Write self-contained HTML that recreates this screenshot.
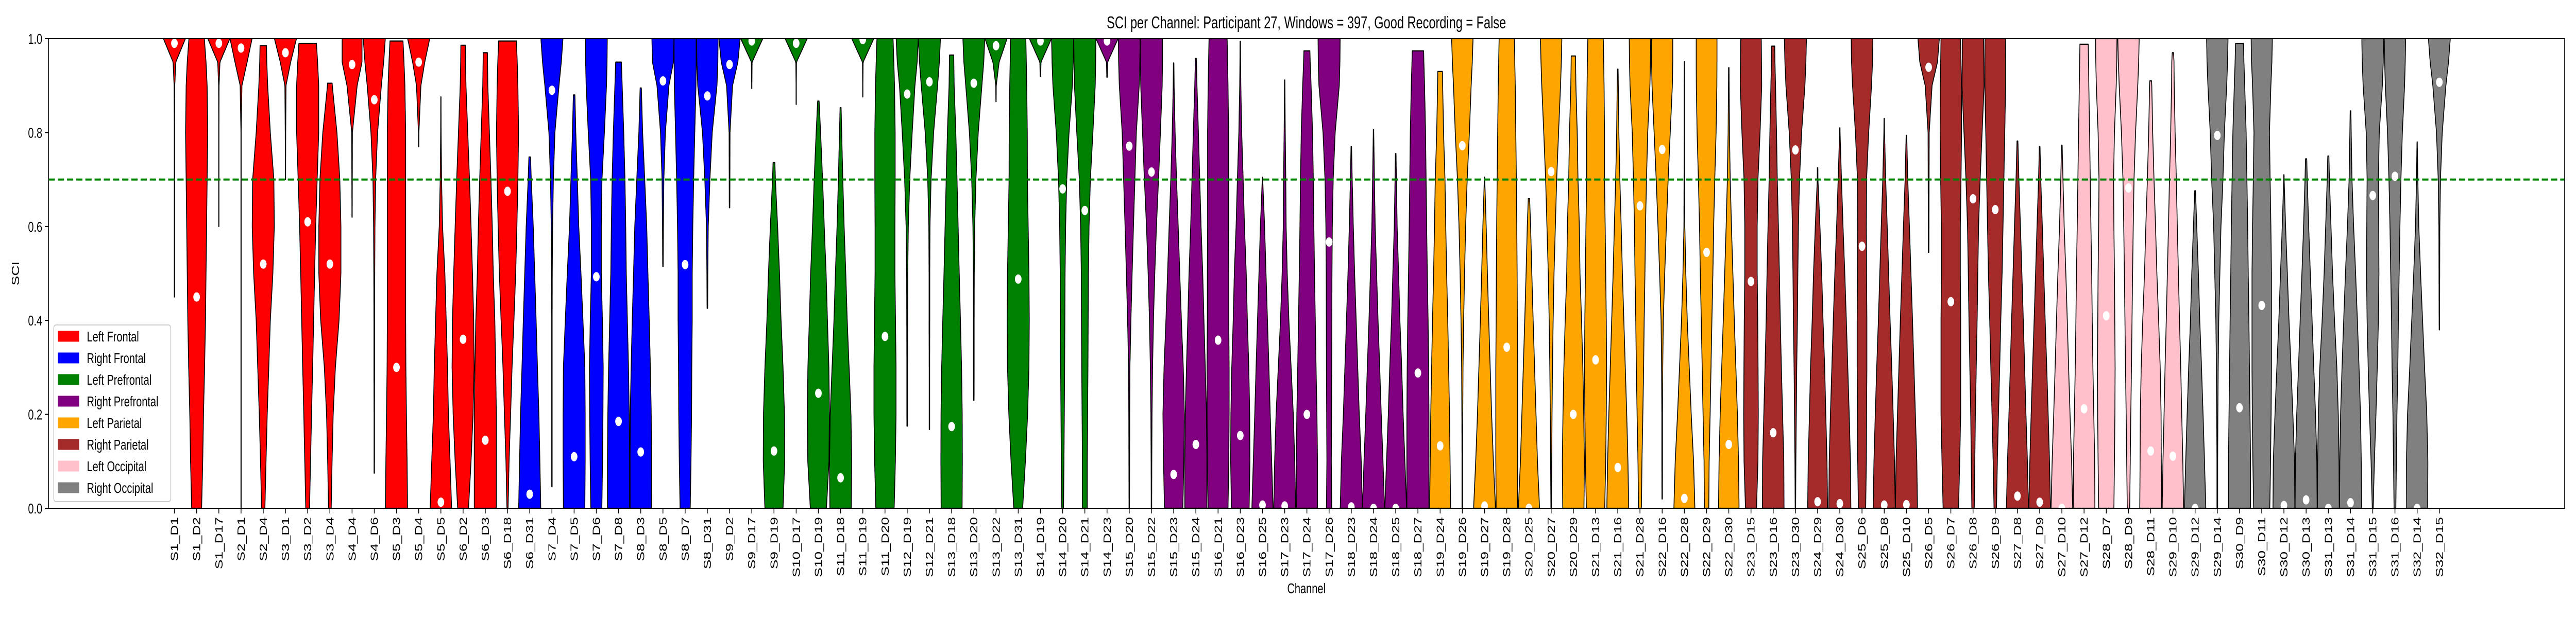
<!DOCTYPE html>
<html><head><meta charset="utf-8"><style>
html,body{margin:0;padding:0;background:#fff;overflow:hidden;width:100vw;height:100vh;}
svg{display:block;width:100vw;height:100vh;font-family:"Liberation Sans","DejaVu Sans",sans-serif;}
</style></head><body>
<svg id="chart" viewBox="0 0 7000 1200" preserveAspectRatio="none" xmlns="http://www.w3.org/2000/svg">
<rect x="0" y="0" width="7000" height="1200" fill="#fff"/>
<text x="3550" y="55" font-size="33" text-anchor="middle">SCI per Channel: Participant 27, Windows = 397, Good Recording = False</text>
<defs><clipPath id="plotclip"><rect x="132" y="75" width="6837" height="912"/></clipPath></defs>
<g id="violins" clip-path="url(#plotclip)"></g>
<line id="thr" stroke="#008000" stroke-width="4" stroke-dasharray="17,8"/>
<g id="dots" clip-path="url(#plotclip)"></g>
<rect x="132" y="75" width="6837" height="912" fill="none" stroke="#000" stroke-width="2"/>
<g id="yaxis"></g>
<g id="xaxis"></g>
<text transform="translate(52,531) rotate(-90)" font-size="28" text-anchor="middle">SCI</text>
<text x="3550" y="1152" font-size="28" text-anchor="middle">Channel</text>
<g id="legend">
<rect x="146" y="631" width="318" height="343" rx="6" fill="#fff" fill-opacity="0.8" stroke="#cccccc" stroke-width="2"/>
</g>
</svg>
<script>
const channels = ["S1_D1","S1_D2","S1_D17","S2_D1","S2_D4","S3_D1","S3_D2","S3_D4","S4_D4","S4_D6","S5_D3","S5_D4","S5_D5","S6_D2","S6_D3","S6_D18","S6_D31","S7_D4","S7_D5","S7_D6","S7_D8","S8_D3","S8_D5","S8_D7","S8_D31","S9_D2","S9_D17","S9_D19","S10_D17","S10_D19","S11_D18","S11_D19","S11_D20","S12_D19","S12_D21","S13_D18","S13_D20","S13_D22","S13_D31","S14_D19","S14_D20","S14_D21","S14_D23","S15_D20","S15_D22","S15_D23","S15_D24","S16_D21","S16_D23","S16_D25","S17_D23","S17_D24","S17_D26","S18_D23","S18_D24","S18_D25","S18_D27","S19_D24","S19_D26","S19_D27","S19_D28","S20_D25","S20_D27","S20_D29","S21_D13","S21_D16","S21_D28","S22_D16","S22_D28","S22_D29","S22_D30","S23_D15","S23_D16","S23_D30","S24_D29","S24_D30","S25_D6","S25_D8","S25_D10","S26_D5","S26_D7","S26_D8","S26_D9","S27_D8","S27_D9","S27_D10","S27_D12","S28_D7","S28_D9","S28_D11","S29_D10","S29_D12","S29_D14","S30_D9","S30_D11","S30_D12","S30_D13","S31_D13","S31_D14","S31_D15","S31_D16","S32_D14","S32_D15"];
const regionNames = ["Left Frontal","Right Frontal","Left Prefrontal","Right Prefrontal","Left Parietal","Right Parietal","Left Occipital","Right Occipital"];
const regionColors = ["red","blue","green","purple","orange","brown","pink","gray"];
const regionCounts = [16,10,16,15,14,14,6,12];
const mins = [0.45,0,0.6,0,0,0.7,0,0,0.62,0.075,0,0.77,0,0,0,0,0,0.046,0,0,0,0,0.515,0,0.426,0.64,0.894,0,0.86,0,0,0.876,0,0.175,0.168,0,0.23,0.866,0,0.92,0,0,0.918,0,0,0,0,0,0,0,0,0,0,0,0,0,0,0,0,0,0,0,0,0,0,0,0,0.02,0,0,0,0,0,0,0,0,0,0,0,0.545,0,0,0,0,0,0,0,0,0,0,0,0,0,0,0,0,0,0,0,0,0,0,0.38];
const maxs = [1,1,1,1,0.985,1,0.99,0.905,1,1,0.995,1,0.876,0.986,0.97,0.995,0.748,1,0.88,1,0.95,0.895,1,1,1,1,1,0.736,1,0.867,0.853,1,1,1,1,0.965,1,1,1,1,1,1,1,1,1,0.948,0.958,1,0.994,0.705,0.912,0.974,1,0.77,0.806,0.755,0.974,0.93,1,0.705,1,0.66,1,0.963,1,0.935,1,1,0.951,1,0.938,1,0.984,1,0.725,0.81,1,0.83,0.794,1,1,1,1,0.782,0.77,0.773,0.988,1,1,0.91,0.97,0.676,1,0.99,1,0.71,0.744,0.75,0.846,1,1,0.78,1];
const medians = [0.99,0.45,0.99,0.98,0.52,0.97,0.61,0.52,0.945,0.87,0.30,0.95,0.013,0.36,0.145,0.675,0.03,0.89,0.11,0.493,0.185,0.12,0.91,0.519,0.878,0.945,0.995,0.122,0.99,0.245,0.065,0.998,0.366,0.882,0.908,0.174,0.905,0.985,0.488,0.995,0.68,0.634,0.995,0.771,0.716,0.072,0.136,0.358,0.155,0.007,0.005,0.2,0.567,0.003,0,0,0.288,0.133,0.772,0.005,0.343,0,0.717,0.2,0.316,0.087,0.644,0.764,0.021,0.545,0.136,0.483,0.161,0.763,0.014,0.01,0.558,0.007,0.008,0.939,0.44,0.659,0.636,0.026,0.013,0,0.212,0.41,0.682,0.122,0.111,0,0.794,0.214,0.432,0.006,0.018,0,0.012,0.666,0.707,0,0.907];
// density width profile at SCI levels 0,.1,...,.9,.95,1.0 (fraction of max violin width)
const densityLevels = [0,0.1,0.2,0.3,0.4,0.5,0.6,0.7,0.8,0.9,0.95,1.0];
const densities = [
[0,0,0,0,0.01,0.01,0.01,0.01,0.01,0.03,0.12,1],
[0.45,0.55,0.62,0.72,0.8,0.85,0.9,0.95,1,0.95,0.85,0.7],
[0,0,0,0,0,0,0.01,0.01,0.01,0.02,0.1,1],
[0.01,0.01,0.01,0.01,0.01,0.01,0.01,0.01,0.01,0.08,0.55,1],
[0.15,0.25,0.36,0.5,0.64,0.87,1,0.96,0.64,0.4,0.32,0.28],
[0,0,0,0,0,0,0,0.01,0.02,0.05,0.47,1],
[0.17,0.26,0.35,0.45,0.54,0.63,0.73,0.86,1,1,0.9,0.77],
[0.12,0.2,0.3,0.5,0.83,1,1,0.9,0.64,0.22,0.1,0],
[0,0,0,0,0,0,0.01,0.02,0.03,0.46,0.9,0.9],
[0.01,0.02,0.02,0.03,0.03,0.04,0.06,0.12,0.3,0.64,0.85,1],
[1,0.96,0.9,0.85,0.83,0.83,0.83,0.83,0.83,0.76,0.68,0.58],
[0,0,0,0,0,0,0,0,0.02,0.2,0.55,1],
[0.97,0.83,0.68,0.6,0.48,0.36,0.15,0.06,0.02,0.01,0,0],
[0.49,0.72,0.9,1,0.96,0.85,0.72,0.58,0.42,0.26,0.22,0.2],
[1,1,1,0.94,0.86,0.72,0.63,0.51,0.37,0.23,0.2,0.18],
[0.05,0.14,0.28,0.41,0.58,0.74,0.85,0.94,1,0.94,0.88,0.8],
[1,0.92,0.83,0.7,0.58,0.45,0.32,0.14,0,0,0,0],
[0.02,0.02,0.02,0.02,0.02,0.03,0.06,0.13,0.27,0.64,0.85,1],
[0.97,1,1,0.97,0.8,0.62,0.42,0.29,0.15,0.05,0,0],
[0.5,0.56,0.6,0.62,0.55,0.45,0.45,0.51,0.73,0.92,0.97,0.99],
[1,1,0.97,0.9,0.8,0.7,0.65,0.58,0.47,0.33,0.26,0],
[0.96,0.97,0.95,0.87,0.77,0.65,0.54,0.36,0.17,0.05,0,0],
[0,0,0,0,0,0.02,0.04,0.08,0.22,0.54,0.95,1],
[0.46,0.53,0.58,0.6,0.64,0.64,0.69,0.77,0.87,0.98,1,1],
[0,0,0,0,0.02,0.04,0.08,0.23,0.44,0.87,0.95,0.97],
[0,0,0,0,0,0,0.02,0.03,0.04,0.27,0.75,0.96],
[0,0,0,0,0,0,0,0,0,0.01,0.03,1],
[0.82,0.97,0.95,0.82,0.64,0.5,0.33,0.13,0,0,0,0],
[0,0,0,0,0,0,0,0,0,0.01,0.03,1],
[0.73,0.96,1,0.95,0.82,0.7,0.53,0.38,0.2,0,0,0],
[0.97,1,0.94,0.77,0.6,0.47,0.32,0.2,0.1,0,0,0],
[0,0,0,0,0,0,0,0,0,0.01,0.03,1],
[0.83,0.94,1,1,0.95,0.9,0.9,0.92,0.92,0.86,0.8,0.73],
[0,0.02,0.03,0.03,0.04,0.05,0.1,0.23,0.45,0.7,0.9,1],
[0,0.02,0.02,0.02,0.03,0.03,0.05,0.15,0.38,0.74,0.9,1],
[0.95,0.97,0.96,0.9,0.8,0.69,0.59,0.49,0.38,0.23,0.2,0.18],
[0,0,0.02,0.03,0.03,0.04,0.08,0.19,0.4,0.73,0.9,0.99],
[0,0,0,0,0,0,0,0,0,0.02,0.28,1],
[0.4,0.65,0.85,0.97,1,0.97,0.9,0.83,0.82,0.77,0.73,0.69],
[0,0,0,0,0,0,0,0,0,0.01,0.05,1],
[0.08,0.12,0.15,0.18,0.2,0.22,0.27,0.37,0.58,0.88,0.96,1],
[0.22,0.22,0.25,0.28,0.3,0.32,0.38,0.5,0.73,0.94,0.98,1],
[0,0,0,0,0,0,0,0,0,0.01,0.05,1],
[0.02,0.03,0.04,0.06,0.15,0.26,0.38,0.51,0.64,0.9,0.96,0.99],
[0.02,0.03,0.05,0.1,0.18,0.3,0.45,0.64,0.81,0.97,1,1],
[0.83,0.92,0.97,0.87,0.7,0.55,0.41,0.26,0.13,0.04,0.02,0],
[1,1,0.96,0.85,0.73,0.62,0.47,0.35,0.23,0.1,0.05,0],
[0.9,0.97,1,1,0.97,0.97,0.95,0.95,0.95,0.9,0.86,0.82],
[0.8,0.87,0.85,0.77,0.64,0.54,0.38,0.26,0.13,0.05,0.03,0.02],
[0.96,0.83,0.7,0.58,0.45,0.32,0.19,0.02,0,0,0,0],
[0.99,0.91,0.78,0.58,0.38,0.23,0.13,0.1,0.05,0.02,0,0],
[0.96,0.96,0.91,0.83,0.76,0.69,0.63,0.58,0.51,0.38,0.3,0.24],
[0.24,0.2,0.22,0.24,0.25,0.26,0.29,0.37,0.55,0.92,0.98,1],
[1,0.9,0.72,0.58,0.44,0.3,0.18,0.08,0,0,0,0],
[1,0.86,0.7,0.56,0.41,0.28,0.15,0.08,0.02,0,0,0],
[0.99,0.83,0.67,0.54,0.38,0.26,0.13,0.06,0,0,0,0],
[1,1,1,0.97,0.92,0.85,0.79,0.74,0.69,0.6,0.54,0.49],
[0.95,0.9,0.85,0.77,0.69,0.59,0.51,0.44,0.31,0.23,0.2,0],
[0.03,0.03,0.04,0.06,0.12,0.2,0.3,0.44,0.64,0.8,0.9,0.97],
[0.99,0.8,0.64,0.51,0.38,0.26,0.15,0.02,0,0,0,0],
[0.96,0.99,0.99,0.99,0.96,0.94,0.91,0.87,0.82,0.77,0.73,0.69],
[0.96,0.77,0.64,0.51,0.38,0.26,0.15,0,0,0,0,0],
[0.02,0.05,0.08,0.12,0.18,0.26,0.38,0.5,0.67,0.85,0.92,0.97],
[0.96,1,0.94,0.86,0.74,0.6,0.54,0.42,0.35,0.23,0.2,0.18],
[0.83,0.92,0.97,1,0.97,0.92,0.87,0.81,0.81,0.77,0.74,0.7],
[0.99,0.92,0.81,0.68,0.55,0.42,0.31,0.19,0.1,0.05,0.02,0],
[0.13,0.18,0.26,0.33,0.38,0.45,0.5,0.59,0.7,0.9,0.95,0.97],
[0.02,0.03,0.03,0.05,0.1,0.23,0.38,0.54,0.73,0.92,0.96,0.96],
[0.95,0.83,0.62,0.44,0.26,0.13,0.04,0.03,0.02,0.02,0.01,0],
[0.2,0.23,0.32,0.4,0.48,0.57,0.64,0.74,0.86,0.93,0.94,0.94],
[0.93,0.88,0.78,0.64,0.5,0.37,0.24,0.13,0.06,0.03,0.02,0],
[0.5,0.63,0.66,0.64,0.61,0.56,0.56,0.63,0.82,0.97,0.95,0.93],
[0.98,0.96,0.85,0.74,0.64,0.56,0.47,0.37,0.3,0.21,0.16,0.13],
[0.02,0.04,0.08,0.12,0.18,0.22,0.27,0.37,0.56,0.86,0.95,1],
[0.9,0.85,0.74,0.64,0.49,0.37,0.21,0.03,0,0,0,0],
[1,0.96,0.85,0.72,0.59,0.45,0.29,0.15,0.02,0,0,0],
[0.33,0.39,0.41,0.44,0.44,0.41,0.39,0.41,0.6,0.86,0.95,0.98],
[1,0.93,0.81,0.68,0.53,0.4,0.27,0.13,0.03,0,0,0],
[1,0.94,0.81,0.68,0.55,0.41,0.27,0.12,0.02,0,0,0],
[0,0,0,0,0,0.02,0.03,0.04,0.05,0.31,0.8,0.97],
[0.7,0.8,0.89,0.89,0.89,0.86,0.86,0.92,0.97,0.96,0.92,0.89],
[0.11,0.16,0.21,0.29,0.37,0.43,0.5,0.64,0.82,1,0.98,0.96],
[0.11,0.19,0.29,0.4,0.5,0.62,0.7,0.78,0.86,0.94,0.94,0.93],
[1,0.9,0.77,0.65,0.53,0.4,0.27,0.13,0.02,0,0,0],
[0.98,0.89,0.77,0.64,0.5,0.37,0.24,0.1,0,0,0,0],
[0.98,0.88,0.74,0.61,0.49,0.36,0.21,0.1,0,0,0,0],
[0.98,0.96,0.88,0.8,0.74,0.69,0.62,0.56,0.5,0.43,0.4,0.37],
[0.69,0.74,0.78,0.8,0.77,0.74,0.69,0.66,0.74,0.9,0.95,0.97],
[0.11,0.16,0.21,0.27,0.32,0.37,0.43,0.5,0.64,0.84,0.92,0.97],
[0.99,0.96,0.94,0.86,0.72,0.56,0.44,0.3,0.18,0.1,0,0],
[0.97,0.9,0.8,0.71,0.6,0.5,0.4,0.31,0.2,0.12,0.1,0],
[0.97,0.85,0.72,0.58,0.42,0.3,0.15,0,0,0,0,0],
[0.03,0.03,0.05,0.08,0.13,0.23,0.33,0.51,0.64,0.85,0.93,0.97],
[1,1,0.95,0.9,0.85,0.79,0.74,0.67,0.6,0.47,0.4,0.35],
[0.73,0.8,0.85,0.88,0.88,0.88,0.83,0.76,0.7,0.83,0.92,0.96],
[0.99,0.96,0.81,0.64,0.46,0.31,0.15,0.02,0,0,0,0],
[1,0.97,0.85,0.69,0.54,0.38,0.23,0.1,0,0,0,0],
[0.99,0.97,0.9,0.77,0.56,0.38,0.24,0.1,0,0,0,0],
[1,0.97,0.9,0.77,0.62,0.46,0.28,0.13,0.06,0,0,0],
[0.04,0.15,0.29,0.41,0.51,0.56,0.54,0.51,0.59,0.87,0.95,0.99],
[0.08,0.13,0.18,0.26,0.31,0.38,0.45,0.54,0.67,0.87,0.93,0.97],
[0.95,0.97,0.87,0.67,0.49,0.31,0.15,0.06,0,0,0,0],
[0,0,0,0,0.02,0.03,0.04,0.1,0.26,0.59,0.83,0.99]
];
const yTicks = [0,0.2,0.4,0.6,0.8,1.0];
const yTickLabels = ["0.0","0.2","0.4","0.6","0.8","1.0"];
const threshold = 0.7;

const NS = "http://www.w3.org/2000/svg";
const PL = 132, PR = 6969, PT = 75, PB = 987;
const X0 = 474, DX = 60.34, HALF = 30;
function xScale(i){ return X0 + i*DX; }
function yScale(v){ return PB - v*(PB-PT); }
function mk(tag, attrs, parent){
  const e = document.createElementNS(NS, tag);
  for (const k in attrs) e.setAttribute(k, attrs[k]);
  parent.appendChild(e); return e;
}
function widthAt(row, v){
  const L = densityLevels;
  if (v <= L[0]) return row[0];
  for (let k=1;k<L.length;k++){
    if (v <= L[k]){ const t=(v-L[k-1])/(L[k]-L[k-1]); return row[k-1]+(row[k]-row[k-1])*t; }
  }
  return row[row.length-1];
}
const regionOf = [];
regionCounts.forEach((c,g)=>{ for(let k=0;k<c;k++) regionOf.push(g); });

const gV = document.getElementById('violins');
const gD = document.getElementById('dots');
channels.forEach((ch,i)=>{
  const cx = xScale(i);
  const lo = mins[i], hi = maxs[i];
  const n = Math.max(2, Math.ceil((hi-lo)/0.004));
  const right = [], left = [];
  for (let k=0;k<=n;k++){
    const v = lo + (hi-lo)*k/n;
    const w = Math.max(0.012, widthAt(densities[i], v))*HALF;
    const y = yScale(v);
    right.push((cx+w).toFixed(1)+","+y.toFixed(1));
    left.push((cx-w).toFixed(1)+","+y.toFixed(1));
  }
  left.reverse();
  const p = mk('path', {d:"M"+right.join("L")+"L"+left.join("L")+"Z", fill:regionColors[regionOf[i]], stroke:"#000", "stroke-width":"2.2", "stroke-linejoin":"round"}, gV);
  
  
  const c = mk('circle', {cx:cx.toFixed(1), cy:yScale(medians[i]).toFixed(1), r:"9", fill:"#fff"}, gD);
  
  
});

const thr = document.getElementById('thr');
thr.setAttribute('x1', PL); thr.setAttribute('x2', PR);
thr.setAttribute('y1', yScale(threshold)); thr.setAttribute('y2', yScale(threshold));

const gY = document.getElementById('yaxis');
yTicks.forEach((t,k)=>{
  const y = yScale(t);
  const tl = mk('line', {x1:PL-10, x2:PL, y1:y, y2:y, stroke:"#000", "stroke-width":"2"}, gY);
  
  
  const tx = mk('text', {x:PL-17, y:y+10, "font-size":"28", "text-anchor":"end"}, gY);
  tx.textContent = yTickLabels[k];
  
  
});
const gX = document.getElementById('xaxis');
channels.forEach((ch,i)=>{
  const x = xScale(i);
  const tl = mk('line', {x1:x, x2:x, y1:PB, y2:PB+10, stroke:"#000", "stroke-width":"2"}, gX);
  
  
  const tx = mk('text', {transform:"translate("+x.toFixed(1)+","+(PB+17)+") rotate(-90)", "font-size":"28", "text-anchor":"end", dy:"0.35em"}, gX);
  tx.textContent = ch;
  
  
});
const gL = document.getElementById('legend');
regionNames.forEach((nm,k)=>{
  const cy = 653 + k*42;
  const r = mk('rect', {x:157, y:cy-10.5, width:58, height:21, fill:regionColors[k]}, gL);
  
  
  const t = mk('text', {x:236, y:cy+10, "font-size":"28"}, gL);
  t.textContent = nm;
  
  
});
</script>
</body></html>
